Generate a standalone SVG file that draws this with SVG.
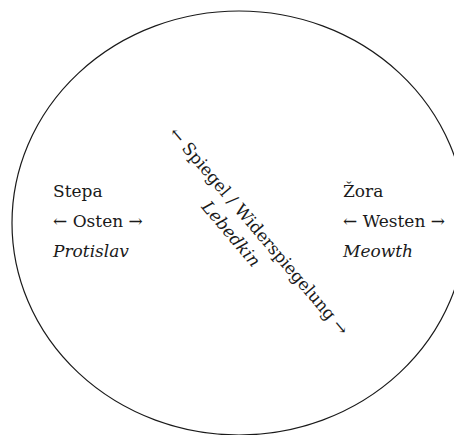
<svg xmlns="http://www.w3.org/2000/svg" width="454" height="435" viewBox="0 0 454 435">
  <style>
    .t { font-family: "DejaVu Serif", "Liberation Serif", serif; font-size: 17px; fill: #1a1a1a; }
    .i { font-style: italic; }
    .ring { fill: none; stroke: #1a1a1a; stroke-width: 1.2; }
  </style>
  <rect width="454" height="435" fill="#ffffff"/>
  <g id="boundary">
    <ellipse class="ring" cx="239" cy="223" rx="227" ry="212"/>
  </g>
  <g id="east">
    <text class="t" x="53" y="197">Stepa</text>
    <text class="t" x="53" y="227">← Osten →</text>
    <text class="t i" x="53" y="257">Protislav</text>
  </g>
  <g id="west">
    <text class="t" x="343" y="197">Žora</text>
    <text class="t" x="343" y="227">← Westen →</text>
    <text class="t i" x="343" y="257">Meowth</text>
  </g>
  <g id="mirror" transform="translate(254.6,234.9) rotate(49.6)">
    <text class="t" x="0" y="0" text-anchor="middle">← Spiegel / Widerspiegelung →</text>
    <text class="t i" x="-16" y="23" text-anchor="middle">Lebedkin</text>
  </g>
</svg>
